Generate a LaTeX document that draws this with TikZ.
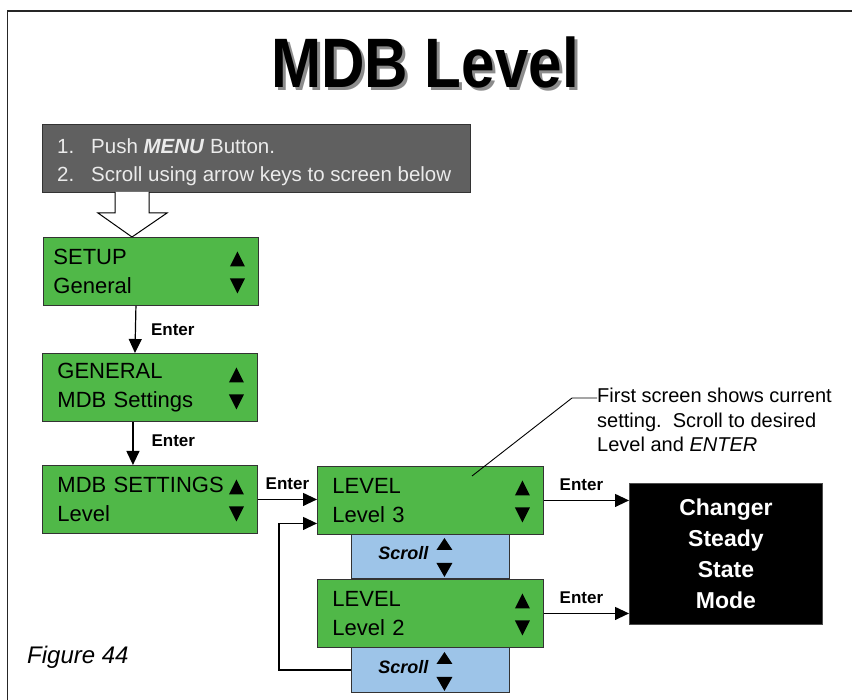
\documentclass[tikz,border=0pt]{standalone}
\usepackage{fontspec}
\setmainfont{Liberation Sans}
\usetikzlibrary{positioning,arrows.meta,calc}
\definecolor{lcdgreen}{RGB}{80,184,72}
\definecolor{scrollblue}{RGB}{157,196,232}
\definecolor{stepgray}{RGB}{96,96,96}
\tikzset{
  screen/.style={draw=black!80,fill=lcdgreen,line width=0.9pt,anchor=north west,
    text width=185pt,inner xsep=15pt,inner ysep=0pt,minimum height=68pt,align=left,
    font=\fontsize{22}{28.5}\selectfont},
  scrollbox/.style={draw=black!80,fill=scrollblue,line width=0.9pt,anchor=north west,
    minimum width=158pt,minimum height=45pt,inner sep=0pt},
  flow/.style={-{Triangle[width=13pt,length=14pt]},line width=1.2pt},
  keylbl/.style={font=\fontsize{17}{17}\selectfont\bfseries,inner sep=0pt},
  lcdkeys/.pic={
    \fill (-7.5,-5) -- (7.5,-5) -- (0,-20) -- cycle;
    \fill (-7.5,7) -- (7.5,7) -- (0,22) -- cycle;},
  scrollkeys/.pic={
    \fill (-8,-6) -- (8,-6) -- (0,-18) -- cycle;
    \fill (-8,7) -- (8,7) -- (0,21) -- cycle;}
}
\newcommand{\titletext}{\scalebox{0.86}[1]{MDB Level}}

\begin{document}
\begin{tikzpicture}[x=1pt,y=-1pt]
\useasboundingbox (0,0) rectangle (852,700);
% frame
\draw[line width=1.5pt,black!85] (7.5,700) -- (7.5,11) -- (852,11);
% title, with its grey shadow
\node[font=\fontsize{70}{70}\selectfont\bfseries] (title) at (425,64)
  {\rlap{\kern3pt\raisebox{-3pt}{\color{black!45}\titletext}}\titletext};
% instructions
\node[draw=black!80,fill=stepgray,line width=0.9pt,anchor=north west,
  minimum width=428pt,minimum height=68pt] (steps) at (42,124) {};
\node[anchor=west,align=left,inner sep=0pt,text=white!92!black,
  font=\fontsize{20.5}{28}\selectfont] (stepstext) at ([xshift=15pt,yshift=-4pt]steps.west)
  {\makebox[34pt][l]{1.}Push \textbf{\textit{MENU}} Button.\\
   \makebox[34pt][l]{2.}Scroll using arrow keys to screen below};
\draw[fill=white,line width=1pt] (115,192) -- (115,213) -- (98,213) -- (132,237)
  -- (167,213) -- (149,213) -- (149,192);
% screens
\node[screen,inner xsep=10pt,text width=195pt] (setup) at (43,237) {SETUP\\General};
\node[screen] (general) at (42,353) {GENERAL\\MDB Settings};
\node[screen] (mdb) at (42,465) {MDB SETTINGS\\Level};
\node[scrollbox] (scrollA) at (351,533) {};
\node[scrollbox] (scrollB) at (351,647) {};
\node[screen,text width=196pt] (lvl3) at (317,466) {LEVEL\\Level 3};
\node[screen,text width=196pt] (lvl2) at (317,579) {LEVEL\\Level 2};
\foreach \nn in {setup,general,mdb,lvl3,lvl2}
  {\pic at ([xshift=-21.5]\nn.east) {lcdkeys};}
\foreach \nn in {scrollA,scrollB}
  {\node[font=\fontsize{18}{18}\selectfont\bfseries\itshape,inner sep=0pt] (\nn txt)
     at ([xshift=-27,yshift=3]\nn.center) {Scroll};
   \pic at ([xshift=14]\nn.center) {scrollkeys};}
% result
\node[draw=black!70,fill=black,line width=0.9pt,anchor=north west,minimum width=193pt,
  minimum height=141pt,text=white,align=center,
  font=\fontsize{23}{31}\selectfont\bfseries] (changer) at (629,483)
  {Changer\\Steady\\State\\Mode};
% connectors
\draw[flow] ([xshift=-15]setup.south) -- ([xshift=-15]general.north)
  node[keylbl,midway,anchor=west,xshift=15pt] (enterA) {Enter};
\draw[flow] ([xshift=-17]general.south) -- ([xshift=-17]general.south |- mdb.north)
  node[keylbl,midway,anchor=west,xshift=18pt,yshift=3pt] (enterB) {Enter};
\draw[flow] (mdb.east) -- (mdb.east -| lvl3.west)
  node[keylbl,midway,above=9pt] (enterC) {Enter};
\draw[flow] (scrollB.west) -- ++(-72,0) |- ([yshift=-23]lvl3.west);
\draw[flow] (lvl3.east) -- (lvl3.east -| changer.west)
  node[keylbl,midway,above=9pt,xshift=-5pt] (enterD) {Enter};
\draw[flow] (lvl2.east) -- (lvl2.east -| changer.west)
  node[keylbl,midway,above=9pt,xshift=-5pt] (enterE) {Enter};
% note
\node[anchor=north west,align=left,inner sep=0pt,font=\fontsize{20}{24.5}\selectfont] (note)
  at (597,388) {First screen shows current\\setting.\ \ Scroll to desired\\Level and \textit{ENTER}};
\coordinate (pointer) at (472,476);
\coordinate (bend) at (572,398);
\draw[line width=0.9pt] (pointer) -- (bend) -- (bend -| note.west);
% caption
\node[anchor=base west,inner sep=0pt,font=\fontsize{24}{24}\selectfont\itshape] (caption)
  at (27,663) {Figure 44};
\end{tikzpicture}
\end{document}
